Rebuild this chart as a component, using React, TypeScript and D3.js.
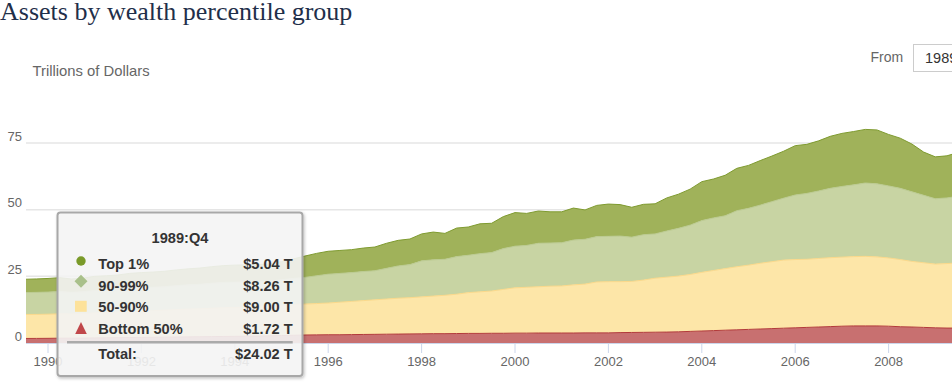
import React from 'react';
import * as d3 from 'd3';

// Quarterly series, first point = 1989:Q3 (trillions of dollars)
const START_YEAR = 1989.5;

const bottom50 = [
  1.7, 1.72, 1.75, 1.8, 1.8, 1.85, 1.9, 1.95, 2.0, 2.05, 2.1, 2.15, 2.2, 2.25, 2.3, 2.35, 2.4, 2.45, 2.5, 2.55, 2.6, 2.7, 2.8, 2.9,
  3.0, 3.05, 3.1, 3.1, 3.15, 3.2, 3.25, 3.3, 3.35, 3.4, 3.45, 3.5, 3.5, 3.55, 3.6, 3.6, 3.65, 3.65, 3.7, 3.7, 3.75, 3.75, 3.75, 3.75, 3.8, 3.8,
  3.8, 3.9, 3.95, 4.0, 4.05, 4.1, 4.2, 4.35, 4.5, 4.65, 4.8, 4.95, 5.1, 5.25, 5.4, 5.55, 5.7, 5.85, 6.0, 6.15, 6.3, 6.4, 6.4, 6.4, 6.3, 6.1, 6.0, 5.85, 5.7, 5.6, 5.6,
];

const p50to90 = [
  9.0, 9.0, 9.05, 9.15, 9.1, 9.15, 9.4, 9.45, 9.6, 9.75, 9.9, 9.95, 10.1, 10.25, 10.4, 10.45, 10.6, 10.75, 10.8, 10.85, 10.9, 11.0, 11.2, 11.4,
  11.6, 11.75, 11.9, 12.2, 12.45, 12.7, 12.95, 13.2, 13.45, 13.6, 13.85, 14.1, 14.4, 14.75, 15.3, 15.6, 15.85, 16.45, 17.0, 17.2, 17.35, 17.55, 17.65, 18.05, 18.3, 19.1,
  19.2, 19.1, 19.15, 19.6, 20.25, 20.6, 20.9, 21.35, 22.0, 22.55, 23.1, 23.65, 24.1, 24.65, 25.1, 25.55, 25.6, 25.55, 25.7, 25.85, 25.9, 26.0, 26.1, 25.9, 25.6, 25.2, 24.6, 24.25, 23.9, 24.2, 24.4,
];

const p90to99 = [
  8.2, 8.26, 8.3, 8.35, 8.1, 8.2, 8.4, 8.5, 8.5, 8.7, 8.8, 8.8, 8.8, 9.0, 9.1, 9.2, 9.4, 9.5, 9.5, 9.5, 9.5, 9.5, 9.7, 9.9,
  10.0, 10.4, 10.8, 10.8, 10.8, 10.9, 10.9, 11.5, 12.1, 12.4, 13.5, 13.6, 13.5, 14.1, 14.0, 14.3, 14.4, 15.3, 15.6, 15.7, 16.3, 16.2, 16.2, 16.8, 16.8, 17.0,
  17.0, 17.1, 16.6, 17.0, 16.6, 17.3, 17.9, 18.5, 19.4, 19.7, 19.8, 21.0, 21.3, 21.8, 22.5, 23.2, 24.2, 24.7, 25.3, 26.0, 26.5, 26.9, 27.5, 27.4, 27.0, 26.7, 26.1, 25.3, 24.5, 24.6, 25.0,
];

const top1 = [
  5.0, 5.04, 5.1, 5.2, 5.0, 5.1, 5.3, 5.3, 5.4, 5.6, 5.6, 5.7, 5.8, 5.9, 6.0, 6.1, 6.2, 6.3, 6.4, 6.4, 6.4, 6.5, 6.8, 7.3,
  8.0, 8.4, 8.6, 8.6, 8.6, 8.8, 8.9, 9.4, 9.6, 9.6, 10.1, 10.4, 9.7, 10.7, 10.6, 11.2, 11.0, 12.0, 12.6, 12.0, 12.1, 11.7, 11.6, 12.0, 11.0, 11.7,
  12.1, 11.8, 11.2, 11.4, 11.3, 12.4, 12.8, 13.5, 14.6, 14.6, 15.2, 15.9, 16.1, 16.7, 17.1, 17.6, 18.5, 18.4, 18.8, 19.5, 19.9, 20.0, 20.1, 20.2, 19.3, 18.8, 17.9, 16.2, 15.7, 15.8, 16.5,
];

const seriesNames = ['Top 1%', '90-99%', '50-90%', 'Bottom 50%'];
const yTicks = [0, 25, 50, 75];
const xTicks = [1990, 1992, 1994, 1996, 1998, 2000, 2002, 2004, 2006, 2008];
const tooltipIndex = 1;

const FILL = { bottom: '#c87070', mid: '#fde6a8', upper: '#c8d4a3', top: '#a0b25a' };
const LINE = { bottom: '#b23a3a', mid: '#fcd98a', upper: '#bccb92', top: '#7f9b30' };
const SANS = '"Liberation Sans", Arial, sans-serif';

export default function App() {
  const W = 952;
  const H = 391;
  const left = 26;
  const x = d3.scaleLinear().domain([1990, 2008]).range([48, 888.6]);
  const y = d3.scaleLinear().domain([0, 75]).range([343, 143]);

  const rows = top1.map((_, i) => ({
    year: START_YEAR + i * 0.25,
    bottom: bottom50[i],
    mid: p50to90[i],
    upper: p90to99[i],
    top: top1[i],
  }));
  const keys = ['bottom', 'mid', 'upper', 'top'];
  const stacked = d3.stack().keys(keys)(rows as any);
  const area = d3
    .area<any>()
    .x((d) => x(d.data.year))
    .y0((d) => y(d[0]))
    .y1((d) => y(d[1]));
  const line = d3
    .line<any>()
    .x((d) => x(d.data.year))
    .y((d) => y(d[1]));

  const tipYear = rows[tooltipIndex].year;
  const tipLabel = `${Math.floor(tipYear)}:Q${Math.round((tipYear % 1) / 0.25) + 1}`;
  const tipVals = [top1[tooltipIndex], p90to99[tooltipIndex], p50to90[tooltipIndex], bottom50[tooltipIndex]];
  const tipTotal = d3.sum(tipVals);
  const fmt = (v: number) => `$${v.toFixed(2)} T`;
  const markerColors = ['#7a9a29', '#a9c08a', '#fde29a', '#c0474a'];

  const rowBase = [269, 290.7, 312.3, 334];

  return (
    <svg
      width={W}
      height={H}
      style={{ position: 'absolute', left: 0, top: 0, background: '#fff' }}
      fontFamily={SANS}
    >
      <defs>
        <clipPath id="plot">
          <rect x={left} y={90} width={W - left} height={343 - 90} />
        </clipPath>
        <filter id="shadow" x="-10%" y="-10%" width="130%" height="130%">
          <feDropShadow dx="1" dy="1.5" stdDeviation="1.5" floodColor="#000" floodOpacity="0.25" />
        </filter>
      </defs>

      <text x={0} y={20} fontFamily='"Liberation Serif", Georgia, serif' fontSize={26} fill="#1f2f4a">
        Assets by wealth percentile group
      </text>

      <text x={32.5} y={76} fontSize={14.8} fill="#666">
        Trillions of Dollars
      </text>

      <text x={870.5} y={61.5} fontSize={14} fill="#666">
        From
      </text>
      <rect x={913.5} y={44.5} width={60} height={27} fill="#fff" stroke="#ccc" />
      <text x={925} y={62.5} fontSize={14.5} fill="#333">
        1989
      </text>

      {yTicks.map((t) => (
        <g key={t}>
          {t > 0 && <line x1={left} x2={W} y1={y(t)} y2={y(t)} stroke="#e6e6e6" strokeWidth={1.5} />}
          <text x={22} y={y(t) - 2.5} textAnchor="end" fontSize={13} fill="#666">
            {t}
          </text>
        </g>
      ))}

      <g clipPath="url(#plot)">
        {stacked.map((s: any) => (
          <path key={s.key} d={area(s) as string} fill={(FILL as any)[s.key]} />
        ))}
        {stacked.map((s: any) => (
          <path key={s.key + 'l'} d={line(s) as string} fill="none" stroke={(LINE as any)[s.key]} strokeWidth={1} />
        ))}
      </g>

      <line x1={left} x2={W} y1={343.5} y2={343.5} stroke="#ccd6eb" strokeWidth={1} />
      {xTicks.map((t) => (
        <g key={t}>
          <line x1={x(t)} x2={x(t)} y1={343} y2={353} stroke="#ccd6eb" strokeWidth={1} />
          <text x={x(t)} y={366} textAnchor="middle" fontSize={13} fill="#666">
            {t}
          </text>
        </g>
      ))}

      <g>
        <rect
          x={57.5}
          y={212.5}
          width={245}
          height={163.5}
          rx={3}
          fill="rgba(247,247,247,0.88)"
          stroke="#a8a8a8"
          strokeWidth={2}
          filter="url(#shadow)"
        />
        <text x={180} y={243.3} textAnchor="middle" fontSize={14.6} fontWeight="bold" fill="#333">
          {tipLabel}
        </text>
        {seriesNames.map((name, i) => (
          <g key={name}>
            {i === 0 && <circle cx={81} cy={rowBase[i] - 8} r={4.7} fill={markerColors[i]} />}
            {i === 1 && (
              <path
                d={`M81,${rowBase[i] - 16} L87.5,${rowBase[i] - 9.5} L81,${rowBase[i] - 3} L74.5,${rowBase[i] - 9.5} Z`}
                fill={markerColors[i]}
              />
            )}
            {i === 2 && <rect x={75} y={rowBase[i] - 11.5} width={11.7} height={11} fill={markerColors[i]} />}
            {i === 3 && (
              <path
                d={`M81,${rowBase[i] - 12} L86.8,${rowBase[i]} L75.2,${rowBase[i]} Z`}
                fill={markerColors[i]}
              />
            )}
            <text x={98.3} y={rowBase[i]} fontSize={14.6} fontWeight="bold" fill="#333">
              {name}
            </text>
            <text x={292.7} y={rowBase[i]} textAnchor="end" fontSize={14.6} fontWeight="bold" fill="#333">
              {fmt(tipVals[i])}
            </text>
          </g>
        ))}
        <line x1={67} x2={292.7} y1={342.3} y2={342.3} stroke="#aaa" strokeWidth={2.5} />
        <text x={98.3} y={359} fontSize={14.6} fontWeight="bold" fill="#333">
          Total:
        </text>
        <text x={292.7} y={359} textAnchor="end" fontSize={14.6} fontWeight="bold" fill="#333">
          {fmt(tipTotal)}
        </text>
      </g>
    </svg>
  );
}
